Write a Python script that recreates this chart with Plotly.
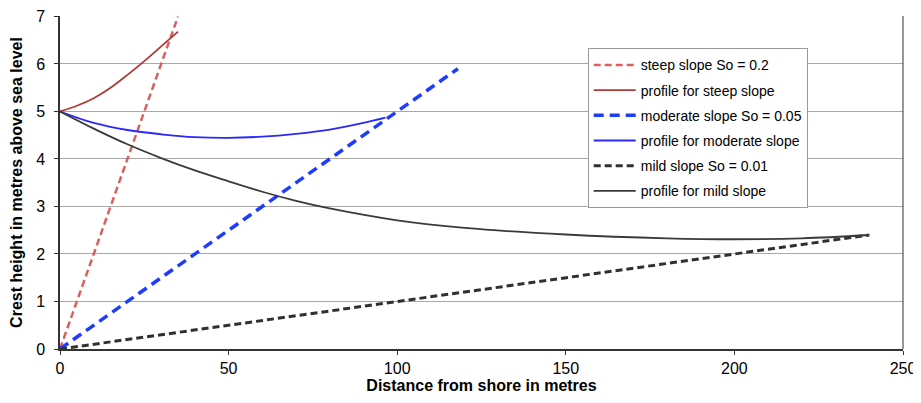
import plotly.graph_objects as go

# Straight bed-slope lines
steep_x = [0, 35]
steep_y = [0, 7.0]
moderate_x = [0, 118]
moderate_y = [0, 5.9]
mild_x = [0, 240]
mild_y = [0, 2.4]

# Computed crest profiles
steep_prof_x = [0, 5, 10, 15, 20, 25, 30, 35]
steep_prof_y = [5.0, 5.12, 5.28, 5.5, 5.77, 6.06, 6.37, 6.68]

mod_prof_x = [0, 10, 20, 30, 40, 50, 60, 70, 80, 90, 96.5]
mod_prof_y = [5.0, 4.76, 4.61, 4.52, 4.46, 4.445, 4.47, 4.53, 4.62, 4.76, 4.87]

mild_prof_x = [0, 10, 20, 30, 40, 50, 60, 70, 80, 100, 120, 150, 180, 200, 220, 240]
mild_prof_y = [5.0, 4.64, 4.31, 4.02, 3.76, 3.53, 3.31, 3.12, 2.96, 2.71, 2.55, 2.41, 2.33, 2.31, 2.33, 2.4]

names = ["steep slope So = 0.2", "profile for steep slope",
         "moderate slope So = 0.05", "profile for moderate slope",
         "mild slope So = 0.01", "profile for mild slope"]

fig = go.Figure()
fig.add_trace(go.Scatter(x=steep_x, y=steep_y, mode="lines", name=names[0], legendgroup="a",
                         line=dict(color="#d9605e", width=2.5, dash="7px,4px")))
fig.add_trace(go.Scatter(x=steep_prof_x, y=steep_prof_y, mode="lines", name=names[1], legendgroup="b",
                         line=dict(color="#b03a36", width=1.8, shape="spline")))
fig.add_trace(go.Scatter(x=moderate_x, y=moderate_y, mode="lines", name=names[2], legendgroup="c",
                         line=dict(color="#1e3cff", width=3.5, dash="10px,6px")))
fig.add_trace(go.Scatter(x=mod_prof_x, y=mod_prof_y, mode="lines", name=names[3], legendgroup="d",
                         line=dict(color="#2828ff", width=1.8, shape="spline")))
fig.add_trace(go.Scatter(x=mild_x, y=mild_y, mode="lines", name=names[4], legendgroup="e",
                         line=dict(color="#303030", width=3, dash="7px,4px")))
fig.add_trace(go.Scatter(x=mild_prof_x, y=mild_prof_y, mode="lines", name=names[5], legendgroup="f",
                         line=dict(color="#3a3a3a", width=1.8, shape="spline")))

# The page body adds an 8px offset; size the figure to fill the remaining window.
fig.update_layout(
    width=913, height=387,
    margin=dict(l=52, r=18, t=8, b=46, autoexpand=False),
    plot_bgcolor="white", paper_bgcolor="white",
    font=dict(family="Liberation Sans, Arial, sans-serif", size=16, color="black"),
    showlegend=True,
    legend=dict(x=0.626, y=0.903, xanchor="left", yanchor="top",
                bgcolor="white", bordercolor="#999999", borderwidth=1,
                font=dict(size=14), traceorder="grouped", tracegroupgap=4,
                itemwidth=42),
)
fig.update_xaxes(range=[0, 250], tickvals=[0, 50, 100, 150, 200, 250], automargin=False,
                 showgrid=False, zeroline=False, showline=True, linecolor="#333333", linewidth=1.5,
                 mirror=False, ticks="outside", ticklen=4, tickcolor="#333333",
                 tickfont=dict(size=16), ticklabeloverflow="allow",
                 title=dict(text="<b>Distance from shore in metres</b>", font=dict(size=16), standoff=2))
fig.update_yaxes(range=[0, 7.01], tickvals=[0, 1, 2, 3, 4, 5, 6, 7], automargin=False,
                 showgrid=True, gridcolor="#a8a8a8", gridwidth=1, zeroline=False,
                 showline=True, linecolor="#333333", linewidth=1.5,
                 ticks="outside", ticklen=4, tickcolor="#333333", ticklabelstandoff=6,
                 tickfont=dict(size=16), ticklabeloverflow="allow",
                 title=dict(text="<b>Crest height in metres above sea level</b>", font=dict(size=16), standoff=19))
# right border of plot area
fig.add_shape(type="line", xref="paper", yref="paper", x0=1, x1=1, y0=0, y1=1,
              line=dict(color="#333333", width=1))

fig.write_html("out.html")
